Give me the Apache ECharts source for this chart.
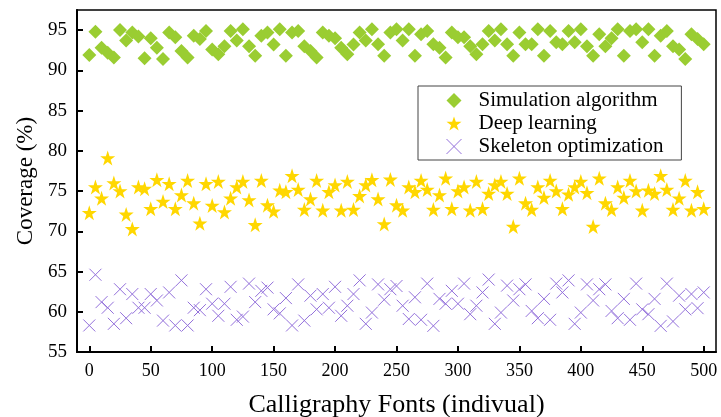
<!DOCTYPE html>
<html>
<head>
<meta charset="utf-8">
<script src="https://cdn.jsdelivr.net/npm/echarts@6/dist/echarts.min.js"></script>
<style>html,body{margin:0;padding:0;background:#fff;}#c{width:721px;height:417px;}</style>
</head>
<body>
<div id="c"></div>
<script>
const xValues = [];
for (let i = 0; i <= 100; i++) xValues.push(i * 5);

const simulationAlgorithm = [91.9,94.8,92.8,92.2,91.6,95.0,93.7,94.7,94.2,91.5,94.0,92.8,91.4,94.7,94.1,92.4,91.6,94.3,93.9,94.9,92.6,92.0,93.0,94.9,93.7,95.1,93.0,91.8,94.3,94.7,93.2,95.1,91.8,94.7,94.9,93.0,92.4,91.6,94.7,94.3,94.0,92.8,92.0,93.2,94.7,93.7,95.1,93.25,91.8,94.7,95.1,93.7,95.1,91.8,94.5,94.9,93.25,92.8,91.6,94.7,94.1,94.1,93.0,92.0,93.25,94.9,93.7,95.1,93.25,91.8,94.7,93.25,93.25,95.1,91.8,94.9,93.5,93.25,94.9,93.5,95.1,93.0,91.8,94.5,93.0,94.0,95.1,91.8,94.9,95.1,93.5,95.1,91.8,94.3,94.9,93.0,92.6,91.4,94.5,93.9,93.25];

const deepLearning = [72.3,75.5,74.1,79.1,76.0,75.0,72.1,70.3,75.5,75.3,72.8,76.4,73.7,75.9,72.8,74.5,76.3,73.5,71.0,75.9,73.2,76.2,72.4,74.1,75.5,76.2,73.9,70.8,76.3,73.25,72.5,75.1,74.9,76.9,75.2,72.7,74.0,76.3,72.6,74.9,75.75,72.6,76.2,72.7,74.4,75.75,76.4,74.0,70.9,76.45,73.25,72.6,75.5,74.9,76.3,75.2,72.7,74.5,76.6,72.8,75.0,75.5,72.6,76.2,72.8,74.7,75.75,76.2,74.7,70.6,76.6,73.5,72.7,75.5,74.2,76.3,75.0,72.8,74.6,75.5,76.2,74.8,70.6,76.6,73.5,72.7,75.5,74.2,76.3,75.0,72.6,75.1,74.7,76.9,75.2,72.7,74.1,76.3,72.6,74.9,72.8];

const skeletonOptimization = [58.3,64.6,61.2,60.5,58.5,62.8,59.2,62.2,60.5,60.5,62.2,61.4,58.9,62.4,58.3,63.9,58.3,60.5,60.2,62.8,61.0,59.5,61.0,63.1,59.0,59.4,63.5,61.2,62.6,63.0,60.3,59.8,61.7,58.3,63.4,58.9,62.0,60.3,62.2,60.5,63.1,59.5,60.75,62.2,63.9,58.5,59.9,63.4,61.5,62.8,63.2,60.75,59.1,61.8,59.0,63.5,58.25,61.6,61.0,62.6,61.0,63.5,59.7,60.75,62.4,64.0,58.5,59.9,63.25,61.4,62.8,63.4,60.1,59.2,61.6,59.0,63.5,62.4,63.9,58.5,59.9,63.4,61.4,62.8,63.4,60.1,59.2,61.6,59.0,63.5,60.3,59.7,61.6,58.25,63.5,58.8,62.0,60.3,62.2,60.45,62.4];

const xTicks = [0,50,100,150,200,250,300,350,400,450,500];
const yTicks = [55,60,65,70,75,80,85,90,95];

const seriesNames = ['Simulation algorithm','Deep learning','Skeleton optimization'];

const STAR = 'path://M50,0 L61.8,35.4 L99,35.4 L68.9,57.3 L80.3,92.7 L50,70.8 L19.7,92.7 L31.1,57.3 L1,35.4 L38.2,35.4 Z';
const CROSS = 'path://M0,0 L10,10 M10,0 L0,10';

function pairs(arr){ return arr.map((v,i)=>[xValues[i], v]); }

const font = 'Liberation Serif';
const chart = echarts.init(document.getElementById('c'), null, {renderer:'canvas'});
chart.setOption({
  animation: false,
  backgroundColor: '#fff',
  grid: {left: 77, right: 5, top: 10, bottom: 65, show: true, borderColor: '#000', borderWidth: 1.5, outerBoundsMode: 'none', containLabel: false},
  legend: {
    orient: 'vertical',
    left: 418, top: 86,
    borderColor: '#444', borderWidth: 1,
    padding: [4, 18, 3, 26],
    itemGap: 2,
    itemWidth: 15, itemHeight: 15,
    textStyle: {fontFamily: font, fontSize: 21, color: '#000', padding: [0,0,0,12]},
    data: [
      {name: seriesNames[0], icon: 'diamond', itemStyle:{color:'#9ACD32'}},
      {name: seriesNames[1], icon: STAR, itemStyle:{color:'#FFD700'}},
      {name: seriesNames[2], icon: CROSS, itemStyle:{color:'none', borderColor:'#9370DB', borderWidth:1}}
    ]
  },
  xAxis: {
    type: 'value', min: -10, max: 510,
    name: 'Calligraphy Fonts (indivual)', nameLocation: 'middle', nameGap: 40,
    nameTextStyle: {fontFamily: font, fontSize: 26, color: '#000'},
    axisLine: {show: true, onZero: false, lineStyle: {color: '#000', width: 2}},
    axisTick: {show: true, inside: true, length: 6, lineStyle: {color:'#000', width: 2}, customValues: xTicks},
    axisLabel: {fontFamily: font, fontSize: 18, color: '#000', margin: 10, customValues: xTicks},
    splitLine: {show: false}
  },
  yAxis: {
    type: 'value', min: 55, max: 97.5,
    name: 'Coverage (%)', nameLocation: 'middle', nameGap: 36,
    nameTextStyle: {fontFamily: font, fontSize: 23, color: '#000'},
    axisLine: {show: true, onZero: false, lineStyle: {color: '#000', width: 2}},
    axisTick: {show: true, inside: true, length: 6, lineStyle: {color:'#000', width: 2}, customValues: yTicks},
    axisLabel: {fontFamily: font, fontSize: 19, color: '#000', margin: 10, customValues: yTicks},
    splitLine: {show: false}
  },
  series: [
    {name: seriesNames[0], type: 'scatter', symbol: 'diamond', symbolSize: 14,
     itemStyle: {color: '#9ACD32', opacity: 1}, data: pairs(simulationAlgorithm)},
    {name: seriesNames[1], type: 'scatter', symbol: STAR, symbolSize: 15,
     itemStyle: {color: '#FFD700', opacity: 1}, data: pairs(deepLearning)},
    {name: seriesNames[2], type: 'scatter', symbol: CROSS, symbolSize: 12,
     itemStyle: {color: 'none', borderColor: '#9370DB', borderWidth: 1, opacity: 1}, data: pairs(skeletonOptimization)}
  ]
});
</script>
</body>
</html>
